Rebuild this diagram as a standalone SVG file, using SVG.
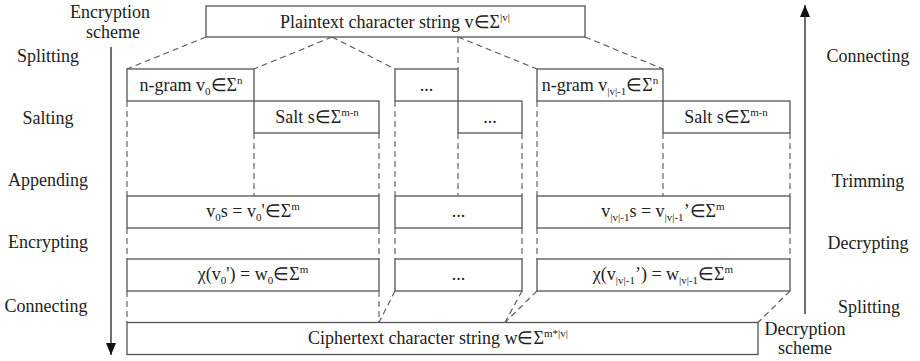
<svg xmlns="http://www.w3.org/2000/svg" width="920" height="361" viewBox="0 0 920 361">
  <style>
    .box { fill: #fff; stroke: #555; stroke-width: 1.3; }
    .dash { fill: none; stroke: #555; stroke-width: 1.1; stroke-dasharray: 6 4; }
    .axis { fill: none; stroke: #222; stroke-width: 1.3; }
    .t { font-family: "Liberation Serif", "Times New Roman", serif; font-size: 18px; fill: #222; text-anchor: middle; }
    .s { font-size: 11px; }
  </style>
  <defs>
    <marker id="head" markerWidth="12" markerHeight="10" refX="12" refY="5" orient="auto" markerUnits="userSpaceOnUse" viewBox="0 0 12 10">
      <path d="M0,0 L12,5 L0,10 Z" fill="#111"/>
    </marker>
  </defs>
  <rect width="920" height="361" fill="#fff"/>

  <!-- dashed connectors between stages -->
  <g id="connectors">
    <!-- plaintext splits into n-grams -->
    <line class="dash" x1="206" y1="37" x2="127" y2="69"/>
    <line class="dash" x1="332" y1="37" x2="254" y2="69"/>
    <line class="dash" x1="332" y1="37" x2="395" y2="69"/>
    <line class="dash" x1="458" y1="37" x2="458" y2="69"/>
    <line class="dash" x1="458" y1="37" x2="537" y2="69"/>
    <line class="dash" x1="585" y1="37" x2="663" y2="69"/>
    <!-- n-gram / salt guides down to the appended blocks -->
    <line class="dash" x1="127" y1="101" x2="127" y2="196"/>
    <line class="dash" x1="254" y1="133" x2="254" y2="196"/>
    <line class="dash" x1="379" y1="133" x2="379" y2="196"/>
    <line class="dash" x1="395" y1="101" x2="395" y2="196"/>
    <line class="dash" x1="458" y1="133" x2="458" y2="196"/>
    <line class="dash" x1="522" y1="133" x2="522" y2="196"/>
    <line class="dash" x1="537" y1="101" x2="537" y2="196"/>
    <line class="dash" x1="663" y1="133" x2="663" y2="196"/>
    <line class="dash" x1="790" y1="133" x2="790" y2="196"/>
    <!-- appended to encrypted -->
    <line class="dash" x1="127" y1="228" x2="127" y2="259"/>
    <line class="dash" x1="379" y1="228" x2="379" y2="259"/>
    <line class="dash" x1="395" y1="228" x2="395" y2="259"/>
    <line class="dash" x1="522" y1="228" x2="522" y2="259"/>
    <line class="dash" x1="537" y1="228" x2="537" y2="259"/>
    <line class="dash" x1="790" y1="228" x2="790" y2="259"/>
    <!-- encrypted blocks join into the ciphertext -->
    <line class="dash" x1="127" y1="291" x2="127" y2="322.5"/>
    <line class="dash" x1="379" y1="291" x2="379" y2="322.5"/>
    <line class="dash" x1="395" y1="291" x2="379" y2="322.5"/>
    <line class="dash" x1="522" y1="291" x2="505" y2="322.5"/>
    <line class="dash" x1="537" y1="291" x2="505" y2="322.5"/>
    <line class="dash" x1="790" y1="291" x2="758" y2="322.5"/>
  </g>

  <!-- process direction arrows -->
  <g id="encryption-axis">
    <line class="axis" x1="111" y1="47" x2="111" y2="355" marker-end="url(#head)"/>
    <text class="t" x="110" y="18">Encryption</text>
    <text class="t" x="113" y="38">scheme</text>
  </g>
  <g id="decryption-axis">
    <line class="axis" x1="805" y1="314" x2="805" y2="5" marker-end="url(#head)"/>
    <text class="t" x="805" y="335">Decryption</text>
    <text class="t" x="805" y="354">scheme</text>
  </g>

  <!-- stage labels -->
  <g id="stages-left">
    <text class="t" x="48" y="62">Splitting</text>
    <text class="t" x="48" y="124">Salting</text>
    <text class="t" x="48" y="186">Appending</text>
    <text class="t" x="48" y="248">Encrypting</text>
    <text class="t" x="46" y="312">Connecting</text>
  </g>
  <g id="stages-right">
    <text class="t" x="868" y="62">Connecting</text>
    <text class="t" x="868" y="187">Trimming</text>
    <text class="t" x="868" y="249">Decrypting</text>
    <text class="t" x="869" y="313">Splitting</text>
  </g>

  <!-- data blocks -->
  <g id="plaintext">
    <rect class="box" x="206" y="6" width="379" height="31"/>
    <text class="t" x="395" y="28">Plaintext character string v∈Σ<tspan class="s" dy="-7">|v|</tspan></text>
  </g>

  <g id="ngram-0">
    <rect class="box" x="127" y="69" width="127" height="32"/>
    <text class="t" x="191" y="91">n-gram v<tspan class="s" dy="4">0</tspan><tspan dy="-4">∈Σ</tspan><tspan class="s" dy="-7">n</tspan></text>
  </g>
  <g id="salt-0">
    <rect class="box" x="254" y="101" width="125" height="32"/>
    <text class="t" x="317" y="123">Salt s∈Σ<tspan class="s" dy="-7">m-n</tspan></text>
  </g>
  <g id="ngram-mid">
    <rect class="box" x="395" y="69" width="63" height="32"/>
    <text class="t" x="426.5" y="91">...</text>
  </g>
  <g id="salt-mid">
    <rect class="box" x="458" y="101" width="64" height="32"/>
    <text class="t" x="490" y="123">...</text>
  </g>
  <g id="ngram-last">
    <rect class="box" x="537" y="69" width="126" height="32"/>
    <text class="t" x="600" y="91">n-gram v<tspan class="s" dy="4">|v|-1</tspan><tspan dy="-4">∈Σ</tspan><tspan class="s" dy="-7">n</tspan></text>
  </g>
  <g id="salt-last">
    <rect class="box" x="663" y="101" width="127" height="32"/>
    <text class="t" x="726" y="123">Salt s∈Σ<tspan class="s" dy="-7">m-n</tspan></text>
  </g>

  <g id="appended-0">
    <rect class="box" x="127" y="196" width="252" height="32"/>
    <text class="t" x="253" y="217">v<tspan class="s" dy="4">0</tspan><tspan dy="-4">s = v</tspan><tspan class="s" dy="4">0</tspan><tspan dy="-4">'∈Σ</tspan><tspan class="s" dy="-7">m</tspan></text>
  </g>
  <g id="appended-mid">
    <rect class="box" x="395" y="196" width="127" height="32"/>
    <text class="t" x="458.5" y="217">...</text>
  </g>
  <g id="appended-last">
    <rect class="box" x="537" y="196" width="253" height="32"/>
    <text class="t" x="663" y="217">v<tspan class="s" dy="4">|v|-1</tspan><tspan dy="-4">s = v</tspan><tspan class="s" dy="4">|v|-1</tspan><tspan dy="-4">’∈Σ</tspan><tspan class="s" dy="-7">m</tspan></text>
  </g>

  <g id="encrypted-0">
    <rect class="box" x="127" y="259" width="252" height="32"/>
    <text class="t" x="253" y="280">χ(v<tspan class="s" dy="4">0</tspan><tspan dy="-4">') = w</tspan><tspan class="s" dy="4">0</tspan><tspan dy="-4">∈Σ</tspan><tspan class="s" dy="-7">m</tspan></text>
  </g>
  <g id="encrypted-mid">
    <rect class="box" x="395" y="259" width="127" height="32"/>
    <text class="t" x="458.5" y="280">...</text>
  </g>
  <g id="encrypted-last">
    <rect class="box" x="537" y="259" width="253" height="32"/>
    <text class="t" x="663" y="280">χ(v<tspan class="s" dy="4">|v|-1</tspan><tspan dy="-4">’) = w</tspan><tspan class="s" dy="4">|v|-1</tspan><tspan dy="-4">∈Σ</tspan><tspan class="s" dy="-7">m</tspan></text>
  </g>

  <g id="ciphertext">
    <rect class="box" x="127" y="322.5" width="631" height="32"/>
    <text class="t" x="438" y="344">Ciphertext character string w∈Σ<tspan class="s" dy="-7">m*|v|</tspan></text>
  </g>
</svg>
